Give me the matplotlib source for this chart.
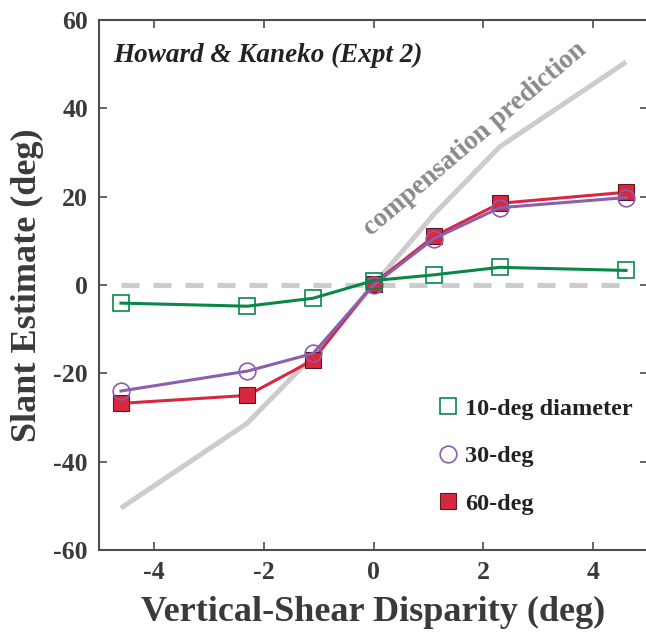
import matplotlib
matplotlib.use("Agg")
import matplotlib.pyplot as plt
from matplotlib.lines import Line2D

# vertical-shear disparity (deg) for each condition
disparity = [-4.6, -2.3, -1.1, 0.0, 1.1, 2.3, 4.6]

# slant estimates (deg) per stimulus diameter
slant_10 = [-4.1, -4.8, -3.0, 1.0, 2.3, 4.0, 3.3]
slant_30 = [-24.0, -19.5, -15.5, 0.0, 10.5, 17.5, 19.8]
slant_60 = [-26.8, -25.0, -17.0, 0.3, 11.0, 18.5, 21.0]

# full compensation prediction
compensation = [-50.5, -31.3, -16.0, 0.0, 16.0, 31.3, 50.5]

plt.rcParams['font.family'] = ['Liberation Serif', 'DejaVu Serif']
plt.rcParams['font.weight'] = 'bold'
plt.rcParams['axes.labelweight'] = 'bold'
plt.rcParams['axes.unicode_minus'] = False

txt = '#3a3a3a'
spine = '#4d4d4d'
green = '#0a8748'
purple = '#8d5db0'
red = '#d8273f'
light = '#cccccc'

fig = plt.figure(figsize=(6.46, 6.40), dpi=100)
ax = fig.add_axes([99 / 646, 90 / 640, 549 / 646, 530 / 640])

ax.plot(disparity, compensation, color=light, lw=3.6, zorder=1, solid_capstyle='butt')
ax.plot([disparity[0], disparity[-1]], [0, 0], color=light, lw=3.6,
        dashes=(3.6, 2.8), zorder=1)

ax.plot(disparity, slant_60, color=red, lw=2.2, marker='s', ms=12,
        mfc=red, mec='#5a1a22', mew=0.8, zorder=3)
ax.plot(disparity, slant_30, color=purple, lw=2.2, marker='o', ms=12,
        mfc='none', mec=purple, mew=1.2, zorder=4)
ax.plot(disparity, slant_10, color=green, lw=2.2, marker='s', ms=11.5,
        mfc='none', mec=green, mew=1.2, zorder=5)

ax.set_xlim(-5, 5)
ax.set_ylim(-60, 60)
ax.set_xticks([-4, -2, 0, 2, 4])
ax.set_yticks([-60, -40, -20, 0, 20, 40, 60])
ax.tick_params(direction='in', length=6, width=1.2, color=spine,
               top=True, right=True, labelsize=18.5, labelcolor=txt, pad=8)
for lab in ax.get_xticklabels() + ax.get_yticklabels():
    lab.set_fontweight('bold')
for s in ax.spines.values():
    s.set_color(spine)
    s.set_linewidth(1.5)

ax.set_xlabel('Vertical-Shear Disparity (deg)', fontsize=26, color=txt)
ax.set_ylabel('Slant Estimate (deg)', fontsize=26, color=txt)
ax.xaxis.set_label_coords(0.5, -0.117)
ax.xaxis.label.set_va('center')
ax.yaxis.set_label_coords(-0.13, 0.5)
ax.yaxis.label.set_va('center')

ax.text(0.026, 0.921, 'Howard & Kaneko (Expt 2)', transform=ax.transAxes,
        fontsize=19.5, style='italic', color='#222222', va='baseline')
ax.text(-0.05, 11.1, 'compensation prediction', fontsize=19.5, color='#8a8a8a',
        rotation=40.5, rotation_mode='anchor', ha='left', va='baseline')

handles = [
    Line2D([], [], ls='none', marker='s', ms=11.5, mfc='none', mec=green, mew=1.2),
    Line2D([], [], ls='none', marker='o', ms=12, mfc='none', mec=purple, mew=1.2),
    Line2D([], [], ls='none', marker='s', ms=12, mfc=red, mec='#5a1a22', mew=0.8),
]
leg = ax.legend(handles, ['10-deg diameter', '30-deg', '60-deg'],
                loc='upper left', bbox_to_anchor=(0.618, 0.287), frameon=False,
                fontsize=17.5, handlelength=0.8, handletextpad=0.3,
                labelspacing=1.05, borderpad=0, borderaxespad=0)
for t in leg.get_texts():
    t.set_color('#222222')

fig.savefig('out.png', dpi=100)
